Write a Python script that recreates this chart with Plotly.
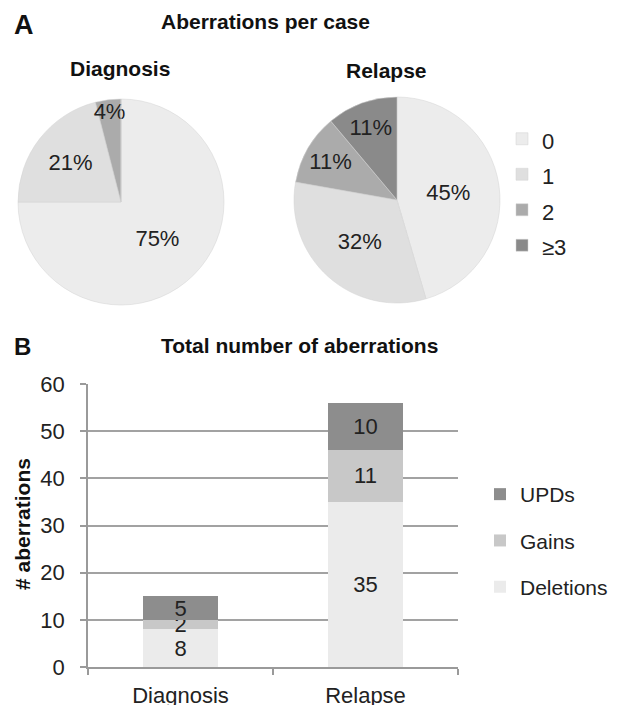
import plotly.graph_objects as go

W, H = 619, 705
OFF = 8  # the page body margin offsets the figure by 8 px
FONT = "Liberation Sans, Arial, sans-serif"

# ---- data ----
pie_categories = ["0", "1", "2", "≥3"]
diagnosis_pct = [75, 21, 4, 0]
relapse_pct = [45, 32, 11, 11]
pie_colors = ["#ececec", "#dfdfdf", "#ababab", "#8a8a8a"]

bar_categories = ["Diagnosis", "Relapse"]
deletions = [8, 35]
gains = [2, 11]
upds = [5, 10]
bar_series = [("Deletions", deletions, "#ebebeb", 3), ("Gains", gains, "#c8c8c8", 2), ("UPDs", upds, "#8d8d8d", 1)]
y_ticks = [0, 10, 20, 30, 40, 50, 60]


def px(x):
    return (x - OFF) / W


def py(y):
    return 1 - (y - OFF) / H


# legend labels: item spacing from the legend font, visible size from the span
leg_labels = [f'<span style="font-size:22px">{c}</span>' for c in pie_categories]

fig = go.Figure()

for vals, dom_x, dom_y in [(diagnosis_pct, [px(18), px(224)], [py(305), py(99)]),
                           (relapse_pct, [px(294), px(500)], [py(303), py(97)])]:
    fig.add_trace(go.Pie(
        labels=leg_labels, values=vals, sort=False, direction="clockwise", rotation=0,
        marker=dict(colors=pie_colors, line=dict(color="#d2d2d2", width=0.5)),
        texttemplate=["%{value}%" if v > 0 else "" for v in vals],
        textposition="inside", insidetextorientation="horizontal",
        textfont=dict(family=FONT, size=22, color="#222"),
        domain=dict(x=dom_x, y=dom_y),
        legend="legend", showlegend=True, hoverinfo="percent",
    ))

for name, vals, col, rank in bar_series:
    fig.add_trace(go.Bar(
        x=bar_categories, y=vals, name=name, marker=dict(color=col, line=dict(width=0)),
        text=vals, textposition="inside", insidetextanchor="middle", textangle=0,
        constraintext="none",
        textfont=dict(family=FONT, size=22, color="#222"),
        legend="legend2", legendgroup=name, legendrank=rank,
    ))

fig.update_layout(
    width=W, height=H, margin=dict(l=0, r=0, t=0, b=0, autoexpand=False),
    paper_bgcolor="white", plot_bgcolor="white",
    font=dict(family=FONT, color="#222"),
    uniformtext=dict(minsize=22, mode="show"),
    barmode="stack", bargap=0.595,
    xaxis=dict(domain=[px(88), px(458)], showline=True, linecolor="#9a9a9a", linewidth=1.5,
               ticks="outside", tickson="boundaries", ticklen=6, tickcolor="#9a9a9a", tickwidth=1.5,
               ticklabelstandoff=8,
               tickfont=dict(size=22, family=FONT, color="#222"), showgrid=False, fixedrange=True),
    yaxis=dict(domain=[py(667), py(384)], range=[0, 60], tickvals=y_ticks,
               showline=True, linecolor="#9a9a9a", linewidth=1.5,
               ticks="outside", ticklen=6, tickcolor="#9a9a9a", tickwidth=1.5, ticklabelstandoff=11,
               showgrid=True, gridcolor="#a2a2a2", gridwidth=1.6, zeroline=False,
               tickfont=dict(size=22, family=FONT, color="#222"), fixedrange=True),
    legend=dict(x=px(502), y=py(116), xanchor="left", yanchor="top",
                font=dict(size=25, family=FONT, color="#222"), itemwidth=30,
                bgcolor="rgba(0,0,0,0)"),
    legend2=dict(x=px(480), y=py(474), xanchor="left", yanchor="top",
                 traceorder="grouped", tracegroupgap=16,
                 font=dict(size=21, family=FONT, color="#222"), itemwidth=30,
                 bgcolor="rgba(0,0,0,0)"),
    annotations=[
        dict(text="<b>A</b>", x=px(12), y=py(25), xref="paper", yref="paper", showarrow=False,
             xanchor="left", yanchor="middle", font=dict(size=27, family=FONT, color="#111")),
        dict(text="<b>Aberrations per case</b>", x=px(265), y=py(21), xref="paper", yref="paper",
             showarrow=False, xanchor="center", yanchor="middle", font=dict(size=21, family=FONT, color="#111")),
        dict(text="<b>Diagnosis</b>", x=px(120), y=py(68), xref="paper", yref="paper", showarrow=False,
             xanchor="center", yanchor="middle", font=dict(size=21, family=FONT, color="#111")),
        dict(text="<b>Relapse</b>", x=px(386), y=py(70), xref="paper", yref="paper", showarrow=False,
             xanchor="center", yanchor="middle", font=dict(size=21, family=FONT, color="#111")),
        dict(text="<b>B</b>", x=px(12), y=py(347), xref="paper", yref="paper", showarrow=False,
             xanchor="left", yanchor="middle", font=dict(size=24, family=FONT, color="#111")),
        dict(text="<b>Total number of aberrations</b>", x=px(299), y=py(345), xref="paper", yref="paper",
             showarrow=False, xanchor="center", yanchor="middle", font=dict(size=21, family=FONT, color="#111")),
        dict(text="<b># aberrations</b>", x=px(22), y=py(524), xref="paper", yref="paper", showarrow=False,
             textangle=-90, xanchor="center", yanchor="middle", font=dict(size=21, family=FONT, color="#111")),
    ],
)

fig.write_html("out.html")
